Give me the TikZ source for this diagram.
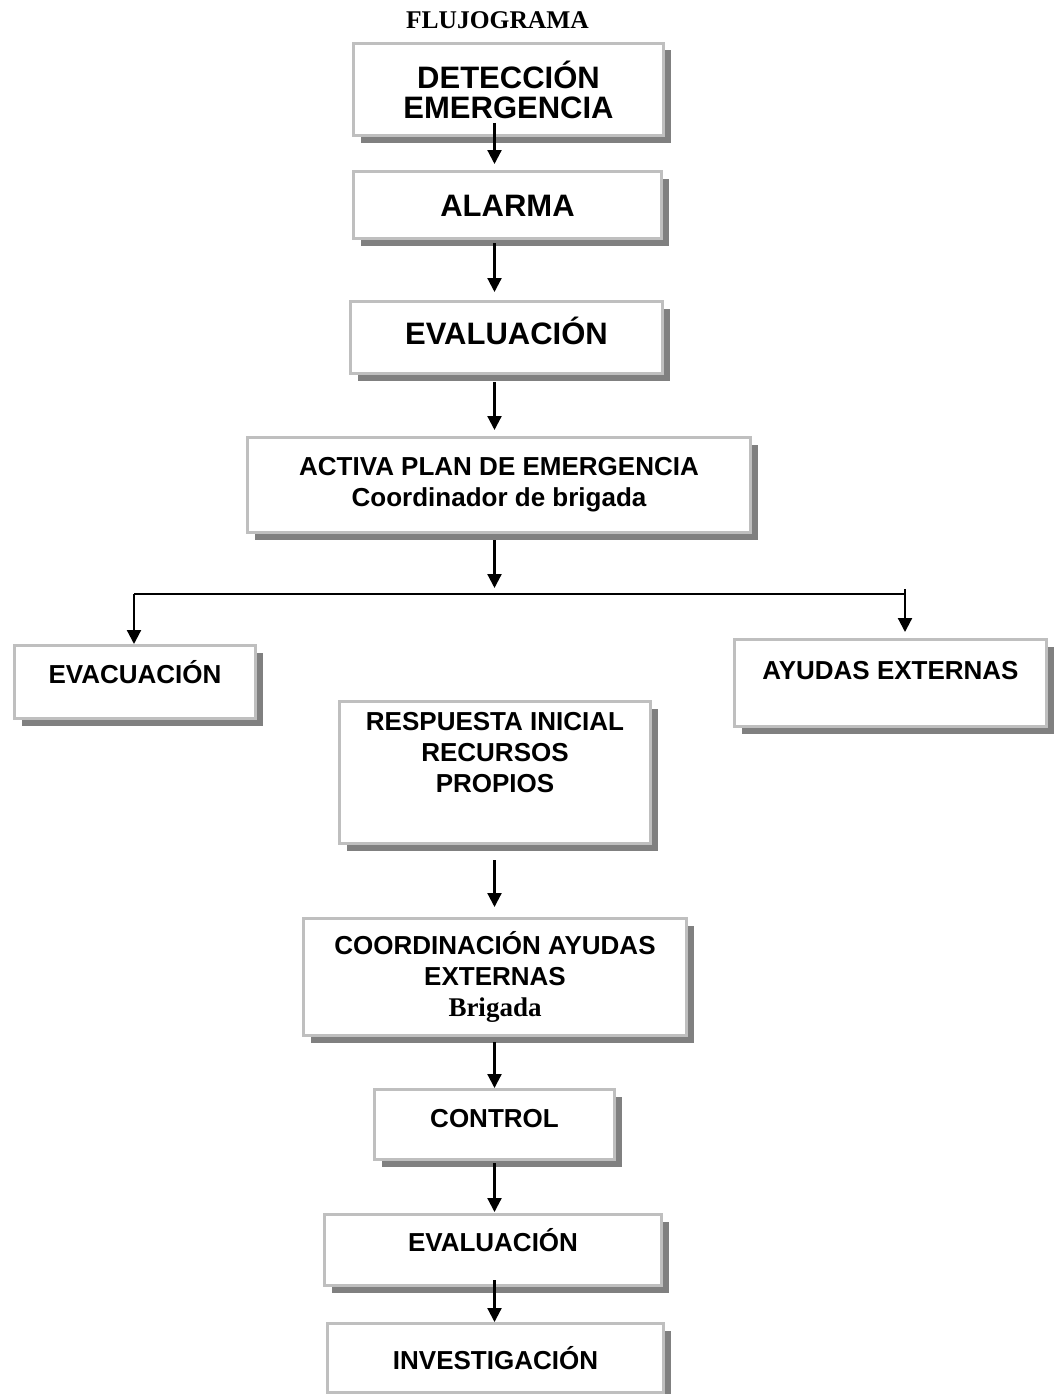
\documentclass[tikz,border=0pt]{standalone}
\usepackage{fontspec}
\setmainfont{Liberation Sans}
\newfontfamily\romana{Liberation Serif}
\usetikzlibrary{shadows,arrows.meta}

\begin{document}
\begin{tikzpicture}[
  x=1pt, y=-1pt,
  caja/.style={draw=black!25, line width=3pt, fill=white, inner sep=0pt, align=center,
    drop shadow={shadow xshift=7pt, shadow yshift=-7pt, fill=black!50, opacity=1},
    font=\bfseries\fontsize{26}{31}\selectfont},
  grande/.style={font=\bfseries\fontsize{31}{30}\selectfont},
  flecha/.style={-{Triangle[width=14pt,length=14pt]}, line width=2.2pt},
]
\useasboundingbox (0,0) rectangle (1057,1394);
\coordinate (eje) at (494.5,0);
\coordinate (izq) at (134,594);
\coordinate (der) at (905,594);

\node[font=\romana\bfseries\fontsize{25.5}{28}\selectfont, anchor=base] (titulo) at (497.5,29) {FLUJOGRAMA};
\node[caja,grande,minimum width=310pt,minimum height=92pt] (det) at (508.5,89.5) {DETECCIÓN\\EMERGENCIA};
\node[caja,grande,minimum width=308pt,minimum height=67pt,text height=23pt,text depth=1pt] (alarma) at (507.5,205) {ALARMA};
\node[caja,grande,minimum width=312pt,minimum height=72pt,text height=23pt,text depth=9pt] (eval) at (506.5,337.5) {EVALUACIÓN};
\node[caja,minimum width=503pt,minimum height=95pt] (activa) at (499,485) {ACTIVA PLAN DE EMERGENCIA\\Coordinador de brigada};
\node[caja,minimum width=241pt,minimum height=73pt,text height=19.5pt,text depth=16pt] (evac) at (135,682) {EVACUACIÓN};
\node[caja,minimum width=312pt,minimum height=87pt,text height=19.5pt,text depth=27pt] (ayudas) at (890.5,683) {AYUDAS EXTERNAS};
\node[caja,minimum width=311pt,minimum height=142pt] (resp) at (495,772.5) {RESPUESTA INICIAL\\RECURSOS\\PROPIOS\\[9pt]\mbox{}};
\node[caja,minimum width=383pt,minimum height=117pt] (coord) at (495,977) {COORDINACIÓN AYUDAS\\EXTERNAS\\{\romana\fontsize{27}{31}\selectfont Brigada}};
\node[caja,minimum width=240pt,minimum height=70pt,text height=19.5pt,text depth=14pt] (control) at (494.5,1124.5) {CONTROL};
\node[caja,minimum width=337pt,minimum height=71pt,text height=19.5pt,text depth=17pt] (eval2) at (493,1250) {EVALUACIÓN};
\node[caja,minimum width=336pt,minimum height=69pt,text height=22pt,text depth=0pt] (inv) at (495.5,1358) {INVESTIGACIÓN};

\draw[flecha,shorten <=-14pt,shorten >=6pt] (det.south -| eje) -- (alarma.north -| eje);
\draw[flecha,shorten <=3pt,shorten >=8pt] (alarma.south -| eje) -- (eval.north -| eje);
\draw[flecha,shorten <=7pt,shorten >=6pt] (eval.south -| eje) -- (activa.north -| eje);
\draw[flecha,shorten <=6pt,shorten >=6pt] (activa.south -| eje) -- (eje |- izq);
\draw[line width=2.2pt] (izq) -- (der);
\draw[flecha] (izq) -- (izq |- evac.north);
\draw[flecha,shorten >=6pt] ([yshift=5pt]der) -- (der |- ayudas.north);
\draw[flecha,shorten <=15pt,shorten >=10pt] (resp.south -| eje) -- (coord.north -| eje);
\draw[flecha,shorten <=5pt] (coord.south -| eje) -- (control.north -| eje);
\draw[flecha,shorten <=2pt,shorten >=1pt] (control.south -| eje) -- (eval2.north -| eje);
\draw[flecha,shorten <=-7pt] (eval2.south -| eje) -- (inv.north -| eje);
\end{tikzpicture}
\end{document}
